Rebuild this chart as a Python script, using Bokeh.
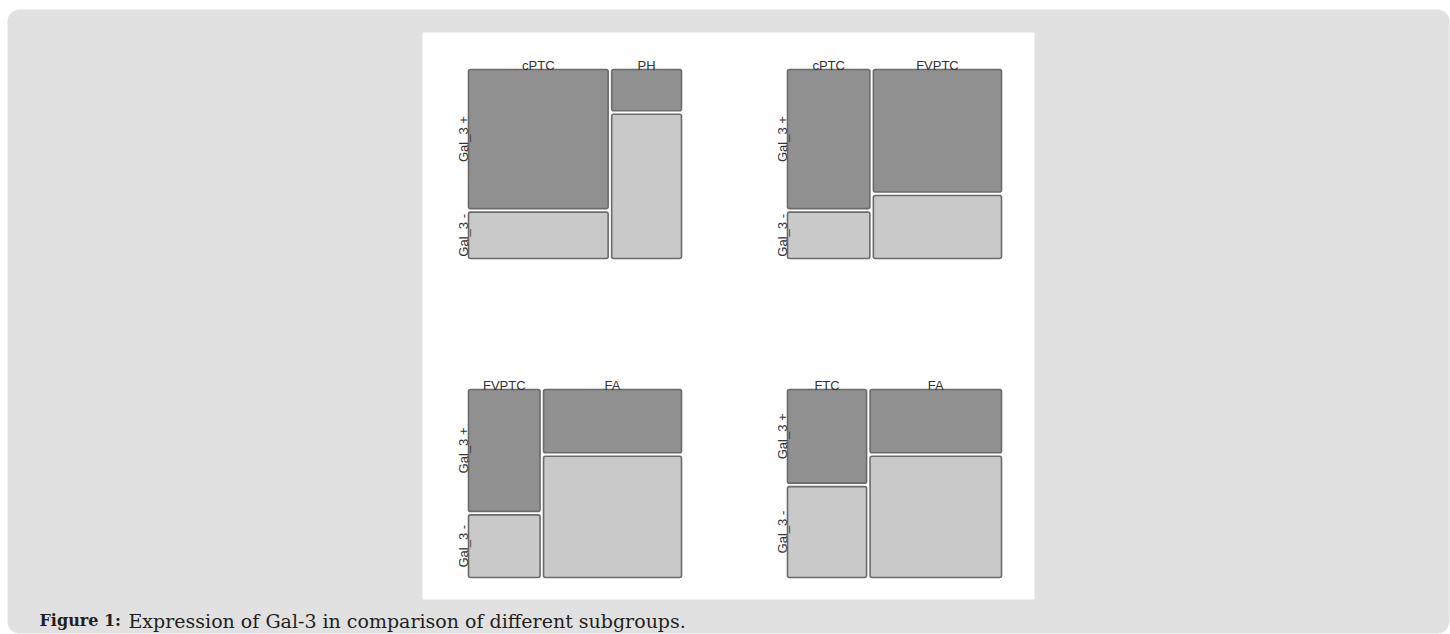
import numpy as np
from bokeh.plotting import figure
from bokeh.models import Range1d, ColumnDataSource
from bokeh.embed import file_html
from bokeh.resources import INLINE
from bokeh.core.properties import value

# ---------------- data (counts read from the mosaic tiles) ----------------
groups_p1 = ["cPTC", "PH"]
pos_p1 = [27, 4]
neg_p1 = [9, 14]

groups_p2 = ["cPTC", "FVPTC"]
pos_p2 = [27, 37]
neg_p2 = [9, 19]

groups_p3 = ["FVPTC", "FA"]
pos_p3 = [37, 37]
neg_p3 = [19, 71]

groups_p4 = ["FTC", "FA"]
pos_p4 = [33, 37]
neg_p4 = [32, 71]

row_labels = ["Gal_3 +", "Gal_3 -"]
caption_bold = "Figure 1:"
caption_text = "Expression of Gal-3 in comparison of different subgroups."

# ---------------- layout / style ----------------
W, H = 1450, 634
DARK = "#909090"
LIGHT = "#c9c9c9"
EDGE = "#6a6a6a"
TXT = "#333333"
LABEL_FONT = value("Liberation Sans")

p = figure(width=W, height=H, output_backend="svg", toolbar_location=None,
           x_range=Range1d(0, W), y_range=Range1d(H, 0), min_border=0,
           background_fill_color="white", border_fill_color="white")
p.axis.visible = False
p.grid.visible = False
p.outline_line_color = None

# page panel (grey rounded box) and white figure area
p.quad(left=[7], right=[1449], top=[9], bottom=[633], fill_color="#e1e1e1",
       line_color=None, border_radius=12)
p.quad(left=[422], right=[1034], top=[32], bottom=[599], fill_color="white",
       line_color=None)

# panels: canvas box [L, R, T, B]
panels = [
    ("p1", groups_p1, pos_p1, neg_p1, (468, 681, 69, 258)),
    ("p2", groups_p2, pos_p2, neg_p2, (787, 1001, 69, 258)),
    ("p3", groups_p3, pos_p3, neg_p3, (468, 681, 389, 577)),
    ("p4", groups_p4, pos_p4, neg_p4, (787, 1001, 389, 577)),
]
GAP = 3.5        # px between tiles
ROW_LAB_PAD = 5  # px between row labels and tiles

for name, groups, pos, neg, (L, R, T, B) in panels:
    # extra ranges mapping panel box to unit square
    p.extra_x_ranges[name] = Range1d(-L / (R - L), (W - L) / (R - L))
    p.extra_y_ranges[name] = Range1d((B - H) / (B - T), B / (B - T))
    gx = GAP / (R - L)
    gy = GAP / (B - T)

    pos_a = np.array(pos, dtype=float)
    neg_a = np.array(neg, dtype=float)
    tot = pos_a + neg_a
    avail_x = 1 - gx * (len(tot) - 1)
    widths = tot / tot.sum() * avail_x
    lefts = np.concatenate([[0.0], np.cumsum(widths[:-1] + gx)])
    rights = lefts + widths
    avail_y = 1 - gy
    pos_h = pos_a / tot * avail_y
    neg_h = neg_a / tot * avail_y

    src = ColumnDataSource(dict(
        left=np.concatenate([lefts, lefts]),
        right=np.concatenate([rights, rights]),
        top=np.concatenate([np.ones_like(pos_h), neg_h]),
        bottom=np.concatenate([1 - pos_h, np.zeros_like(neg_h)]),
        color=[DARK] * len(pos) + [LIGHT] * len(neg),
    ))
    p.quad(left="left", right="right", top="top", bottom="bottom", source=src,
           fill_color="color", line_color=EDGE, line_width=1.6, border_radius=2,
           x_range_name=name, y_range_name=name)

    # column labels
    p.text(x=(lefts + rights) / 2, y=[1.0] * len(groups), text=groups,
           text_align="center", text_baseline="alphabetic", y_offset=-4,
           text_font=LABEL_FONT, text_font_size="13px", text_color=TXT,
           x_range_name=name, y_range_name=name)

    # row labels, centred on the first column's tiles
    xl = -ROW_LAB_PAD / (R - L)
    p.text(x=[xl, xl],
           y=[1 - pos_h[0] / 2, neg_h[0] / 2],
           text=row_labels, angle=np.pi / 2,
           text_align="center", text_baseline="alphabetic",
           text_font=LABEL_FONT, text_font_size="13px", text_color=TXT,
           x_range_name=name, y_range_name=name)

# caption
p.text(x=[39], y=[620], text=[caption_bold], text_font=value("DejaVu Serif"),
       text_font_style="bold", text_font_size="16px", text_color="#231f20",
       text_baseline="alphabetic", text_align="left")
p.text(x=[128], y=[620], text=[caption_text], text_font=value("DejaVu Serif"),
       text_font_size="19px", text_color="#231f20",
       text_baseline="alphabetic", text_align="left")

open("out.html", "w").write(file_html(p, INLINE))
